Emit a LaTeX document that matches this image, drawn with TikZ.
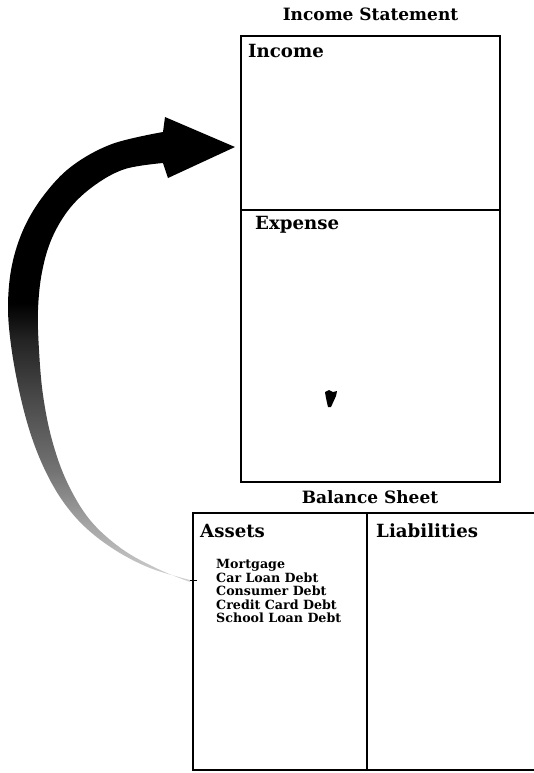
\documentclass[tikz,border=0pt]{standalone}
\usepackage{fontspec}
\setmainfont{DejaVu Serif}
\usetikzlibrary{
    positioning,
    calc
}
% --- Fade of the big curved arrow (light tail, black head) ---
\pgfdeclareverticalshading{arrowfade}{100bp}{%
    color(0bp)=(black!15); color(25bp)=(black!18); color(31bp)=(black!35);
    color(37bp)=(black!55); color(45bp)=(black!72); color(51bp)=(black!86);
    color(55bp)=(black); color(100bp)=(black)}
\tikzset{
    % --- Ruled section of a statement (no text inside) ---
    section/.style = {
        rectangle, draw, line width=1.5pt,
        inner sep=0pt, outer sep=0pt
    },
    % --- Statement title above a box ---
    title/.style = {
        font=\bfseries\fontsize{14.5}{16}\selectfont
    },
    % --- Heading inside a section ---
    heading/.style = {
        font=\bfseries\fontsize{15.5}{17}\selectfont,
        anchor=base west, inner sep=0pt
    },
    % --- Entry list inside a section ---
    entries/.style = {
        font=\bfseries\fontsize{10.8}{11.6}\selectfont,
        anchor=north west, align=left, inner sep=0pt
    }
}

\begin{document}
\begin{tikzpicture}[x=0.03cm, y=-0.03cm]
\useasboundingbox (0,0) rectangle (534,773);

% ---------------------------------------------------------
% Income statement
% ---------------------------------------------------------
\node[section, minimum width=7.77cm, minimum height=5.22cm, anchor=north west] (IncBox) at (241,36) {};
\node[section, minimum width=7.77cm, minimum height=8.16cm, below=0pt of IncBox] (ExpBox) {};

\node[title] (IncTitle) at ($(IncBox.north)+(0,-22)$) {Income Statement};
\node[heading] (IncLabel) at ($(IncBox.north west)+(7,21)$) {Income};
\node[heading] (ExpLabel) at ($(ExpBox.north west)+(14,19)$) {Expense};

% small mark in the expense section
\fill[shift={(ExpBox.north west)}] (84,182) -- (88,180) -- (92,182) -- (96,181)
    -- (95,186) -- (90,197) -- (87,197) -- (85,188) -- cycle;

% ---------------------------------------------------------
% Balance sheet
% ---------------------------------------------------------
\node[section, minimum width=5.22cm, minimum height=7.71cm, anchor=north west] (AssetBox) at (193,513) {};
\node[section, minimum width=5.1cm, minimum height=7.71cm, right=0pt of AssetBox] (LiabBox) {};

\node[title] (BalTitle) at ($(AssetBox.north east)+(3,-16)$) {Balance Sheet};
\node[heading] (AssetLabel) at ($(AssetBox.north west)+(7,24)$) {Assets};
\node[heading] (LiabLabel) at ($(LiabBox.north west)+(9,24)$) {Liabilities};

\node[entries] (Debts) at ($(AssetBox.north west)+(23,46)$) {%
    Mortgage\\
    Car Loan Debt\\
    Consumer Debt\\
    Credit Card Debt\\
    School Loan Debt};

% ---------------------------------------------------------
% Curved arrow: debts feed the income statement
% ---------------------------------------------------------
\coordinate (tail) at ($(AssetBox.north west)+(-3,67)$);
\coordinate (tip) at ($(IncBox.south west)+(-6,-63)$);
\shade[shading=arrowfade] plot[smooth, tension=0.6] coordinates {
        (tail) (150,568) (115,550) (85,527) (62,500) (44,468) (30,432) (19,390)
        (11,345) (8,305) (12,265) (24,228) (44,195) (72,166) (112,144) (163,132)}
    -- (165,117) -- (tip) -- (168,178)
    -- plot[smooth, tension=0.6] coordinates {
        (163,163) (125,169) (95,185) (70,208) (52,238) (42,272) (38,310) (39,350)
        (43,395) (52,440) (67,482) (90,520) (122,549) (158,569) ($(tail)+(0,2)$)}
    -- cycle;
\draw[line width=0.8pt] (tail) -- ++(7,0);

\end{tikzpicture}
\end{document}
